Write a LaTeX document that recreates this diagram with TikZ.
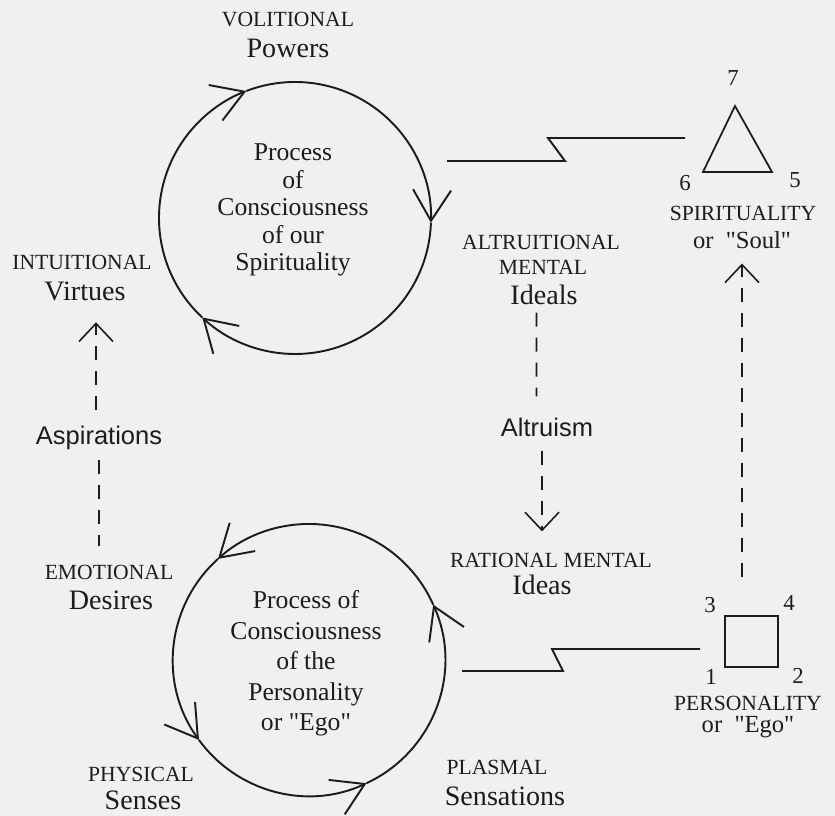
\documentclass[tikz,border=0pt]{standalone}
\usepackage{fontspec}
\setmainfont{Liberation Serif}[Ligatures=TeXOff]
\setsansfont{Liberation Sans}
\usetikzlibrary{arrows.meta}

\definecolor{paper}{RGB}{240,240,238}
\definecolor{ink}{RGB}{28,28,28}

\newcommand{\capfont}{\fontsize{12.3}{14}\selectfont}
\newcommand{\wordfont}{\fontsize{16}{18}\selectfont}
\newcommand{\quotefont}{\fontsize{14}{16}\selectfont}
\newcommand{\numfont}{\fontsize{13}{15}\selectfont}
\newcommand{\aspfont}{\sffamily\fontsize{14.5}{16}\selectfont}

\tikzset{
  circarrow/.style={line width=1.1pt, -{Straight Barb[length=6.2mm, width=7.6mm]}},
  dashline/.style={line width=0.9pt, dash pattern=on 2.8mm off 2.2mm},
  dasharrow/.style={dashline, -{Straight Barb[length=3.6mm, width=6.8mm]}},
  zline/.style={line width=1.1pt}
}

\begin{document}
\begin{tikzpicture}[color=ink, every node/.style={inner sep=0pt, text=ink}]
  \fill [paper] (0,0) rectangle (16.7,16.32);

  % upper cycle
  \coordinate (upper) at (5.90,11.96);
  \node (volitional) at (5.76,15.92) { \capfont VOLITIONAL };
  \node (powers) at (5.76,15.36) { \wordfont Powers };
  \node (spiritproc) at (5.86,12.12) [align=center, font=\fontsize{14.6}{15.6}\selectfont]
    { Process\\ of\\ Consciousness\\ of our\\ Spirituality };
  \draw [circarrow] ([shift={(227:2.72)}]upper) arc [start angle=227, end angle=111, radius=2.72];
  \draw [circarrow] ([shift={(111:2.72)}]upper) arc [start angle=111, end angle=-2, radius=2.72];
  \draw [circarrow] ([shift={(-2:2.72)}]upper) arc [start angle=-2, end angle=-133, radius=2.72];

  % lower cycle
  \coordinate (lower) at (6.18,3.12);
  \node (egoproc) at (6.12,3.05) [align=center, font=\fontsize{14.6}{17.4}\selectfont]
    { Process of\\ Consciousness\\ of the\\ Personality\\ or "Ego" };
  \draw [circarrow] ([shift={(24:2.72)}]lower) arc [start angle=24, end angle=132, radius=2.72];
  \draw [circarrow] ([shift={(132:2.72)}]lower) arc [start angle=132, end angle=216, radius=2.72];
  \draw [circarrow] ([shift={(216:2.72)}]lower) arc [start angle=216, end angle=295, radius=2.72];
  \draw [circarrow] ([shift={(295:2.72)}]lower) arc [start angle=295, end angle=384, radius=2.72];

  % left column
  \node (intuitional) at (1.64,11.08) { \capfont INTUITIONAL };
  \node (virtues) at (1.70,10.50) { \wordfont Virtues };
  \node (aspirations) at (1.98,7.56) { \aspfont Aspirations };
  \node (emotional) at (2.18,4.88) { \capfont EMOTIONAL };
  \node (desires) at (2.22,4.32) { \wordfont Desires };
  \node (physical) at (2.82,0.84) { \capfont PHYSICAL };
  \node (senses) at (2.86,0.31) { \wordfont Senses };

  \draw [dasharrow, shorten <=3.2mm, shorten >=4.3mm] ([xshift=-0.6mm]aspirations.north) -- ([xshift=-0.6mm]aspirations.north |- virtues.south);
  \draw [dashline, shorten <=2mm, shorten >=3.6mm] (aspirations.south) -- (aspirations.south |- emotional.north);

  % middle column
  \node (altruitional) at (10.82,11.48) { \capfont ALTRUITIONAL };
  \node (mental) at (10.86,10.98) { \capfont MENTAL };
  \node (ideals) at (10.88,10.42) { \wordfont Ideals };
  \node (altruism) at (10.94,7.78) { \aspfont Altruism };
  \node (rational) at (11.02,5.12) { \capfont RATIONAL MENTAL };
  \node (ideas) at (10.84,4.62) { \wordfont Ideas };
  \node (plasmal) at (9.94,0.98) { \capfont PLASMAL };
  \node (sensations) at (10.10,0.40) { \wordfont Sensations };

  \draw [dashline, shorten <=1.5mm, shorten >=4.2mm] ([xshift=-1.5mm]ideals.south) -- ([xshift=-2.1mm]altruism.north);
  \draw [dasharrow, shorten <=2.8mm, shorten >=4.2mm] ([xshift=-1mm]altruism.south) -- ([xshift=-1mm]altruism.south |- rational.north);

  % lightning strokes
  \draw [zline] (8.94,13.10) -- (11.30,13.10) -- (10.96,13.56) -- (13.70,13.56);
  \draw [zline] (9.24,2.90) -- (11.26,2.90) -- (11.04,3.34) -- (14.00,3.34);

  % spirituality triangle
  \draw [line width=1pt] (14.06,12.88) -- (14.70,14.20) -- (15.44,12.88) -- cycle;
  \node (n7) at (14.66,14.76) { \numfont 7 };
  \node (n6) at (13.70,12.66) { \numfont 6 };
  \node (n5) at (15.90,12.72) { \numfont 5 };
  \node (spirit) at (14.86,12.06) { \capfont SPIRITUALITY };
  \node (soul) at (14.84,11.52) { \quotefont or ~"Soul" };

  % personality square
  \node (ego) at (15.03,3.49) [draw, line width=1.1pt, minimum width=10.6mm, minimum height=10.2mm] {};
  \node (n3) at (14.20,4.22) { \numfont 3 };
  \node (n4) at (15.78,4.26) { \numfont 4 };
  \node (n1) at (14.22,2.78) { \numfont 1 };
  \node (n2) at (15.96,2.80) { \numfont 2 };
  \node (person) at (14.96,2.26) { \capfont PERSONALITY };
  \node (egoname) at (14.96,1.78) { \quotefont or ~"Ego" };

  \draw [dasharrow, shorten <=7.6mm, shorten >=2.9mm] (soul.south |- ego.north) -- (soul.south);
\end{tikzpicture}
\end{document}
